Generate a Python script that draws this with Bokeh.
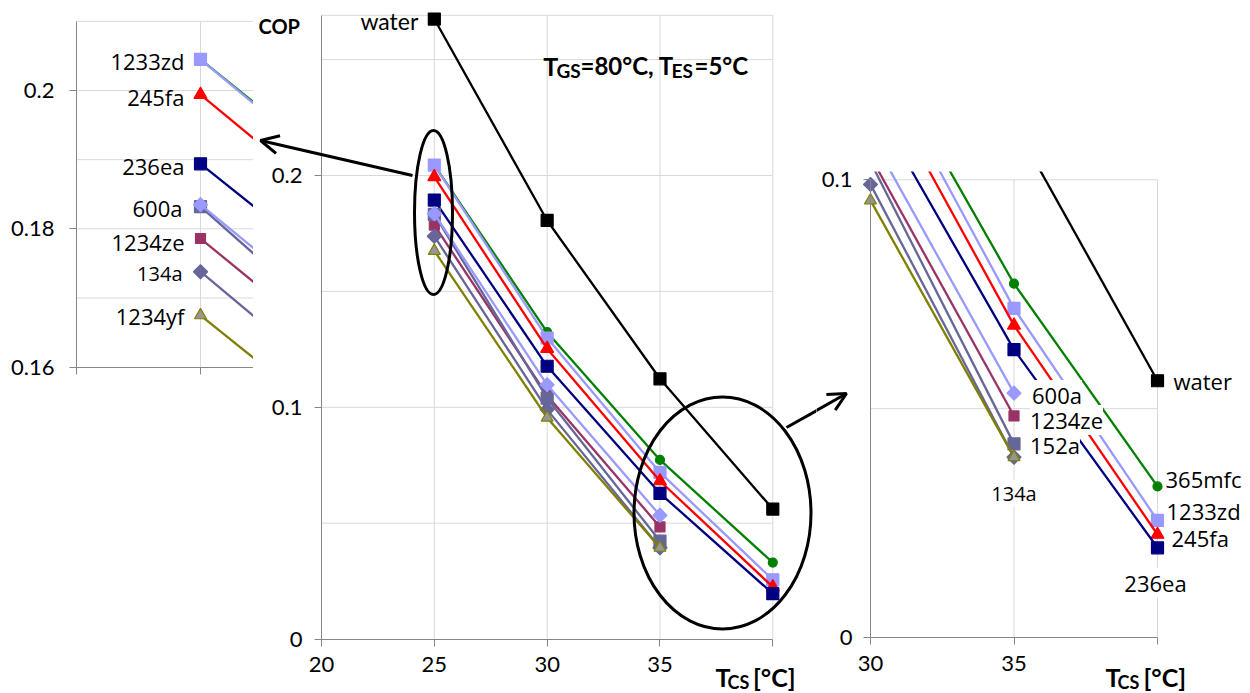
from bokeh.plotting import figure
from bokeh.layouts import row
from bokeh.models import FixedTicker, Label, Arrow, OpenHead, NumeralTickFormatter, BoxAnnotation
from bokeh.embed import file_html
from bokeh.resources import INLINE
import numpy as np

# ---------------- data ----------------
T_CS = [25, 30, 35, 40]
cop_water = [0.2675, 0.1806, 0.1123, 0.0561]
cop_365mfc = [0.2045, 0.1324, 0.0773, 0.0330]
cop_1233zd = [0.2045, 0.1299, 0.0719, 0.0256]
cop_245fa = [0.1994, 0.1253, 0.0682, 0.0225]
cop_236ea = [0.1894, 0.1177, 0.0629, 0.0196]
cop_1234ze = [0.1786, 0.1051, 0.0484]
cop_152a = [0.1832, 0.1039, 0.0423]
cop_600a = [0.1835, 0.1097, 0.0534]
cop_134a = [0.1738, 0.0990, 0.0394]
cop_1234yf = [0.1675, 0.0955, 0.0394]

series_names = ["water", "365mfc", "1233zd", "245fa", "236ea",
                "1234ze", "152a", "600a", "134a", "1234yf"]
series_values = [cop_water, cop_365mfc, cop_1233zd, cop_245fa, cop_236ea,
                 cop_1234ze, cop_152a, cop_600a, cop_134a, cop_1234yf]

# axis ticks / grid values
main_x_ticks = [20, 25, 30, 35, 40]
main_y_ticks = [0, 0.1, 0.2]
main_y_grid = [0.05, 0.1, 0.15, 0.2, 0.25]
left_y_ticks = [0.16, 0.18, 0.2]
left_y_grid = [0.17, 0.18, 0.19, 0.2, 0.21]
right_x_ticks = [30, 35, 40]
right_y_ticks = [0, 0.1]
right_y_grid = [0.05, 0.1]

# style: line colour, marker, size, fill, angle
STYLE = {
    "water":  ("black",   "square",   12, "black",   0),
    "365mfc": ("#008000", "circle",   9,  "#008000", 0),
    "1233zd": ("#9999FF", "square",   12, "#9999FF", 0),
    "245fa":  ("#FF0000", "triangle", 13, "#FF0000", 0),
    "236ea":  ("#000080", "square",   12, "#000080", 0),
    "1234ze": ("#993366", "square",   10, "#993366", 0),
    "152a":   ("#666699", "square",   12, "#666699", 0),
    "600a":   ("#9999FF", "square",   10, "#9999FF", np.pi / 4),
    "134a":   ("#666699", "square",   10, "#666699", np.pi / 4),
    "1234yf": ("#808000", "triangle", 12, "#969696", 0),
}

AX = "#868686"
GR = "#D9D9D9"
TXT_FONT = "Lato"
LBL_FONT = "Open Sans"


def make_fig(w, xr, yr):
    p = figure(width=w, height=693, x_range=xr, y_range=yr,
               output_backend="svg", toolbar_location=None, min_border=0)
    p.outline_line_color = None
    p.background_fill_color = "white"
    p.border_fill_color = "white"
    p.grid.visible = False
    for ax in p.axis:
        ax.axis_line_color = AX
        ax.major_tick_line_color = AX
        ax.major_tick_out = 7
        ax.major_tick_in = 0
        ax.minor_tick_line_color = None
        ax.major_label_text_font = TXT_FONT
        ax.major_label_text_font_size = "22px"
        ax.major_label_text_color = "black"
    return p


def grid_lines(p, hys, hx0, hx1, vxs, vy0, vy1):
    p.segment(x0=[hx0] * len(hys), y0=hys, x1=[hx1] * len(hys), y1=hys,
              line_color=GR, line_width=1)
    p.segment(x0=vxs, y0=[vy0] * len(vxs), x1=vxs, y1=[vy1] * len(vxs),
              line_color=GR, line_width=1)


def draw_series(p, first=None):
    """first: optional dict name -> index of the first point shown in this panel"""
    first = first or {}
    for name, vals in zip(series_names, series_values):
        col, mk, sz, fill, ang = STYLE[name]
        i0 = first.get(name, 0)
        xs = T_CS[i0:len(vals)]
        ys = vals[i0:]
        p.line(xs, ys, line_color=col, line_width=2.3)
        p.scatter(xs, ys, marker=mk, size=sz, fill_color=fill,
                  line_color=col, line_width=1.2, angle=ang)


def point(name, i):
    return T_CS[i], series_values[series_names.index(name)][i]


def add_label(p, name, i, dx, dy, align="left", size="22px", font=LBL_FONT,
              bg=None, text=None):
    x, y = point(name, i)
    p.add_layout(Label(x=x, y=y, x_offset=dx, y_offset=dy, text=text or name,
                       text_font=font, text_font_size=size, text_align=align,
                       text_baseline="middle", text_color="black",
                       background_fill_color=bg))


def bold_label(p, x, y, txt, sz):
    p.add_layout(Label(x=x, y=y, text=txt, text_font=TXT_FONT, text_font_size=sz,
                       text_font_style="bold", text_baseline="alphabetic",
                       text_align="left", text_color="black"))


# ---------------- left inset (zoom of T=25) ----------------
# page px: x=24 at 76, 124 px/unit ; y=0.2 at 90, 6917 px/unit
LX0 = 24 - 76 / 124
LX1 = LX0 + 253 / 124
LY1 = 0.2 + 90 / 6917
LY0 = 0.2 - 603 / 6917
pl = make_fig(253, (LX0, LX1), (LY0, LY1))
pl.xaxis.fixed_location = 0.16
pl.xaxis.bounds = (24, LX1)
pl.xaxis.ticker = FixedTicker(ticks=[24, 25])
pl.xaxis.major_label_overrides = {24: "", 25: ""}
pl.yaxis.fixed_location = 24
pl.yaxis.bounds = (0.16, 0.21)
pl.yaxis.ticker = FixedTicker(ticks=left_y_ticks)
pl.yaxis.formatter = NumeralTickFormatter(format="0.[00]")
pl.yaxis.major_label_standoff = 15
grid_lines(pl, left_y_grid, 24, LX1, [25], 0.16, 0.21)
draw_series(pl)
for nm, dx, dy in [("1233zd", -16, -2), ("245fa", -16, -2), ("236ea", -16, -2),
                   ("600a", -18, -3), ("1234ze", -16, -3), ("1234yf", -16, -1)]:
    add_label(pl, nm, 0, dx, dy, align="right")
add_label(pl, "134a", 0, -18, -2, align="right", size="20px")

# ---------------- main chart ----------------
# page px: x=20 at 321, 22.565 px/unit ; y=0 at 638.6, 2318 px/unit
MX0 = 20 - (321 - 253) / 22.565
MX1 = MX0 + 563 / 22.565
MY1 = 638.6 / 2318
MY0 = -(693 - 638.6) / 2318
TOP = 0.2691
pm = make_fig(563, (MX0, MX1), (MY0, MY1))
pm.xaxis.fixed_location = 0
pm.xaxis.bounds = (20, 40)
pm.xaxis.ticker = FixedTicker(ticks=main_x_ticks)
pm.xaxis.major_label_overrides = {40: ""}
pm.xaxis.major_label_standoff = 11
pm.yaxis.fixed_location = 20
pm.yaxis.bounds = (0, TOP)
pm.yaxis.ticker = FixedTicker(ticks=main_y_ticks)
pm.yaxis.formatter = NumeralTickFormatter(format="0.[00]")
pm.yaxis.major_label_standoff = 12
grid_lines(pm, main_y_grid + [TOP], 20, 40, [25, 30, 35, 40], 0, TOP)
draw_series(pm)
add_label(pm, "water", 0, -16, -2, align="right", size="23px", font=TXT_FONT)


def mx(px):
    return 20 + (px - 321) / 22.565


def my(py):
    return (638.6 - py) / 2318


pm.ellipse(x=[mx(433)], y=[my(212)], width=38, height=164,
           width_units="screen", height_units="screen",
           fill_color=None, line_color="black", line_width=3)
pm.ellipse(x=[mx(722)], y=[my(512.5)], width=177, height=232,
           width_units="screen", height_units="screen",
           fill_color=None, line_color="black", line_width=3)
pm.add_layout(Arrow(end=OpenHead(size=18, line_width=3, line_color="black"),
                    x_start=mx(412), y_start=my(175), x_end=mx(260), y_end=my(140),
                    line_width=3, line_color="black"))
pm.add_layout(Arrow(end=None, x_start=mx(786), y_start=my(427),
                    x_end=mx(818), y_end=my(409), line_width=3, line_color="black"))

bold_label(pm, mx(258), my(25), "COP", "20px")
for txt, px, py, sz in [("T", 542.7, 65, "25px"), ("GS", 556, 70, "19px"),
                        ("=80°C, T", 580, 65, "24px"), ("ES", 671, 70, "19px"),
                        ("=5°C", 694, 65, "24px")]:
    bold_label(pm, mx(px), my(py), txt, sz)
for txt, px, py, sz in [("T", 715, 676, "25px"), ("CS", 727, 681, "18px"),
                        ("[°C]", 752.5, 676, "25px")]:
    bold_label(pm, mx(px), my(py), txt, sz)

# ---------------- right inset (zoom of 30..40) ----------------
# page px: x=30 at 870, 28.7 px/unit ; y=0 at 637, 4577 px/unit
RX0 = 30 - (870 - 816) / 28.7
RX1 = RX0 + 434 / 28.7
RY1 = 637 / 4577
RY0 = -(693 - 637) / 4577
pr = make_fig(434, (RX0, RX1), (RY0, RY1))
pr.xaxis.fixed_location = 0
pr.xaxis.bounds = (30, 40)
pr.xaxis.ticker = FixedTicker(ticks=right_x_ticks)
pr.xaxis.major_label_overrides = {40: ""}
pr.xaxis.major_label_standoff = 11
pr.yaxis.fixed_location = 30
pr.yaxis.bounds = (0, 0.1)
pr.yaxis.ticker = FixedTicker(ticks=right_y_ticks)
pr.yaxis.formatter = NumeralTickFormatter(format="0.[00]")
pr.yaxis.major_label_standoff = 11
grid_lines(pr, right_y_grid, 30, 40, [35, 40], 0, 0.1)
# this panel shows T_CS >= 30 only (water enters it between 35 and 40)
draw_series(pr, first={nm: 1 for nm in series_names} | {"water": 2})


def rx(px):
    return 30 + (px - 870) / 28.7


def ry(py):
    return (637 - py) / 4577


# the inset's plotting window ends a little above 0.1
pr.add_layout(BoxAnnotation(bottom=ry(171), top=RY1 + 0.01, left=RX0 - 1, right=RX1 + 1,
                            fill_color="white", fill_alpha=1,
                            line_alpha=0, level="glyph"))

add_label(pr, "water", 3, 16, 0)
add_label(pr, "365mfc", 3, 8, 7)
add_label(pr, "1233zd", 3, 9, 9)
add_label(pr, "245fa", 3, 14, -3)
add_label(pr, "236ea", 3, -2, -35, align="center", bg="white")
add_label(pr, "600a", 2, 18, -2, bg="white")
add_label(pr, "1234ze", 2, 16, -4, bg="white")
add_label(pr, "152a", 2, 16, -1, bg="white")
add_label(pr, "134a", 2, 0, -36, align="center", size="20px", bg="white")

pr.add_layout(Arrow(end=OpenHead(size=18, line_width=3, line_color="black"),
                    x_start=rx(814), y_start=ry(411), x_end=rx(846), y_end=ry(393),
                    line_width=3, line_color="black"))
for txt, px, py, sz in [("T", 1105, 676, "25px"), ("CS", 1117, 681, "18px"),
                        ("[°C]", 1143, 676, "25px")]:
    bold_label(pr, rx(px), ry(py), txt, sz)

layout = row(pl, pm, pr, spacing=0)
open("out.html", "w").write(file_html(layout, INLINE))
